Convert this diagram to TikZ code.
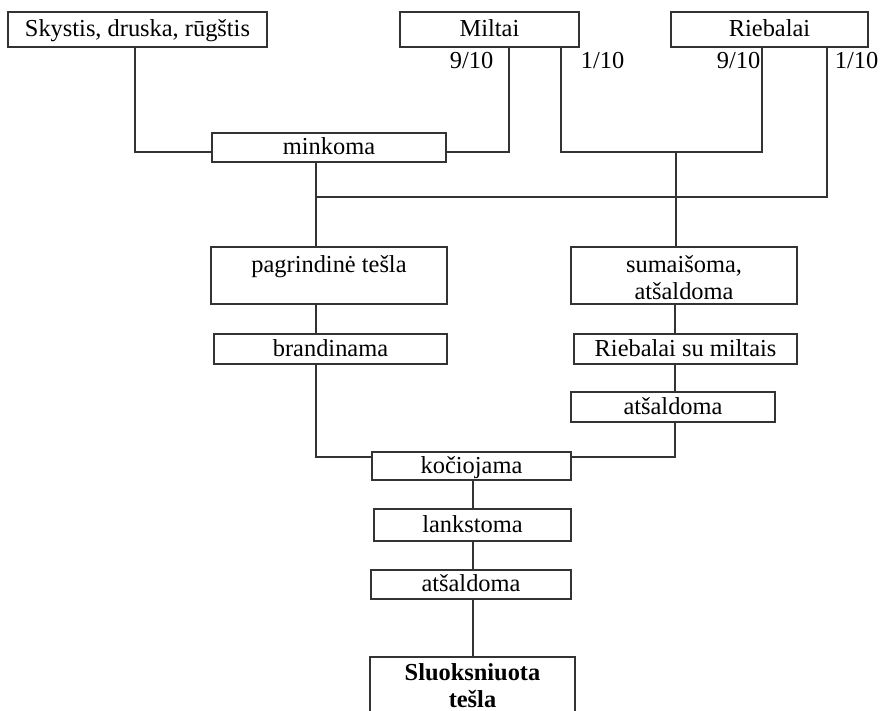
\documentclass[tikz,border=0pt]{standalone}
\usepackage{fontspec}
\setmainfont{Liberation Serif}
\tikzset{
  wh/.style 2 args={minimum width=#1*0.75pt, minimum height=#2*0.75pt},
  box/.style={draw=black!80, line width=0.8pt, inner sep=0pt, align=center},
  onel/.style={box, text height=14.5pt, text depth=3.5pt},
  link/.style={draw=black!80, line width=0.8pt},
  frac/.style={anchor=base, inner sep=0pt}
}
\newcommand{\firstline}{\rule{0pt}{16pt}}
\begin{document}
\begin{tikzpicture}[x=0.75pt,y=-0.75pt,
  every node/.style={font=\fontsize{18.3}{20.25}\selectfont}]
\useasboundingbox (0,0) rectangle (881,710);
\clip (0,0) rectangle (881,710);

% ingredients
\node[onel, wh={259}{35}] (sky) at (137.5,29.5) {Skystis, druska, rūgštis};
\node[onel, wh={179}{35}] (mil) at (489.5,29.5) {Miltai};
\node[onel, wh={197}{35}] (rie) at (769.5,29.5) {Riebalai};

% shares
\node[frac] (lm9) at (471.5,69) {9/10};
\node[frac] (lm1) at (602.5,69) {1/10};
\node[frac] (lr9) at (738.5,69) {9/10};
\node[frac] (lr1) at (856.5,69) {1/10};

% process steps
\node[onel, wh={234}{29}] (mink) at (329,147.5) {minkoma};
\node[box, wh={236}{57}] (pag) at (329,275.5) {\firstline pagrindinė tešla\\\mbox{}};
\node[box, wh={226}{57}] (sum) at (684,275.5) {\firstline sumaišoma,\\atšaldoma};
\node[onel, wh={233}{30}] (bra) at (330.5,349) {brandinama};
\node[onel, wh={223}{30}] (rsm) at (685.5,349) {Riebalai su miltais};
\node[onel, wh={204}{30}] (ats1) at (673,407) {atšaldoma};
\node[onel, wh={199}{28}] (koc) at (471.5,466) {kočiojama};
\node[onel, wh={197}{32}] (lan) at (472.5,525) {lankstoma};
\node[onel, wh={200}{29}] (ats2) at (471,584.5) {atšaldoma};
\node[box, wh={205}{58}, font={\fontsize{18.3}{20.25}\selectfont\bfseries}] (slu) at (472.5,686) {Sluoksniuota\\tešla};

% bend points
\coordinate (c1) at (135,152);
\coordinate (c2) at (509,152);
\coordinate (c3) at (561,152);
\coordinate (c4) at (762,152);
\coordinate (c5) at (676,152);
\coordinate (c6) at (827,197);
\coordinate (c7) at (316,197);
\coordinate (c8) at (316,457);
\coordinate (c9) at (675,457);
\coordinate (c10) at (473,500);

% connectors
\draw[link] (sky.south -| c1) -- (c1) -- (mink.west |- c1);
\draw[link] (mil.south -| c2) -- (c2) -- (mink.east |- c2);
\draw[link] (mil.south -| c3) -- (c3) -- (c4) -- (rie.south -| c4);
\draw[link] (c5) -- (sum.north -| c5);
\draw[link] (rie.south -| c6) -- (c6) -- (c7);
\draw[link] (mink.south -| c7) -- (pag.north -| c7);
\draw[link] (pag.south -| c7) -- (bra.north -| c7);
\draw[link] (bra.south -| c8) -- (c8) -- (koc.west |- c8);
\draw[link] (sum.south -| c9) -- (rsm.north -| c9);
\draw[link] (rsm.south -| c9) -- (ats1.north -| c9);
\draw[link] (ats1.south -| c9) -- (c9) -- (koc.east |- c9);
\draw[link] (koc.south -| c10) -- (lan.north -| c10);
\draw[link] (lan.south -| c10) -- (ats2.north -| c10);
\draw[link] (ats2.south -| c10) -- (slu.north -| c10);
\end{tikzpicture}
\end{document}
